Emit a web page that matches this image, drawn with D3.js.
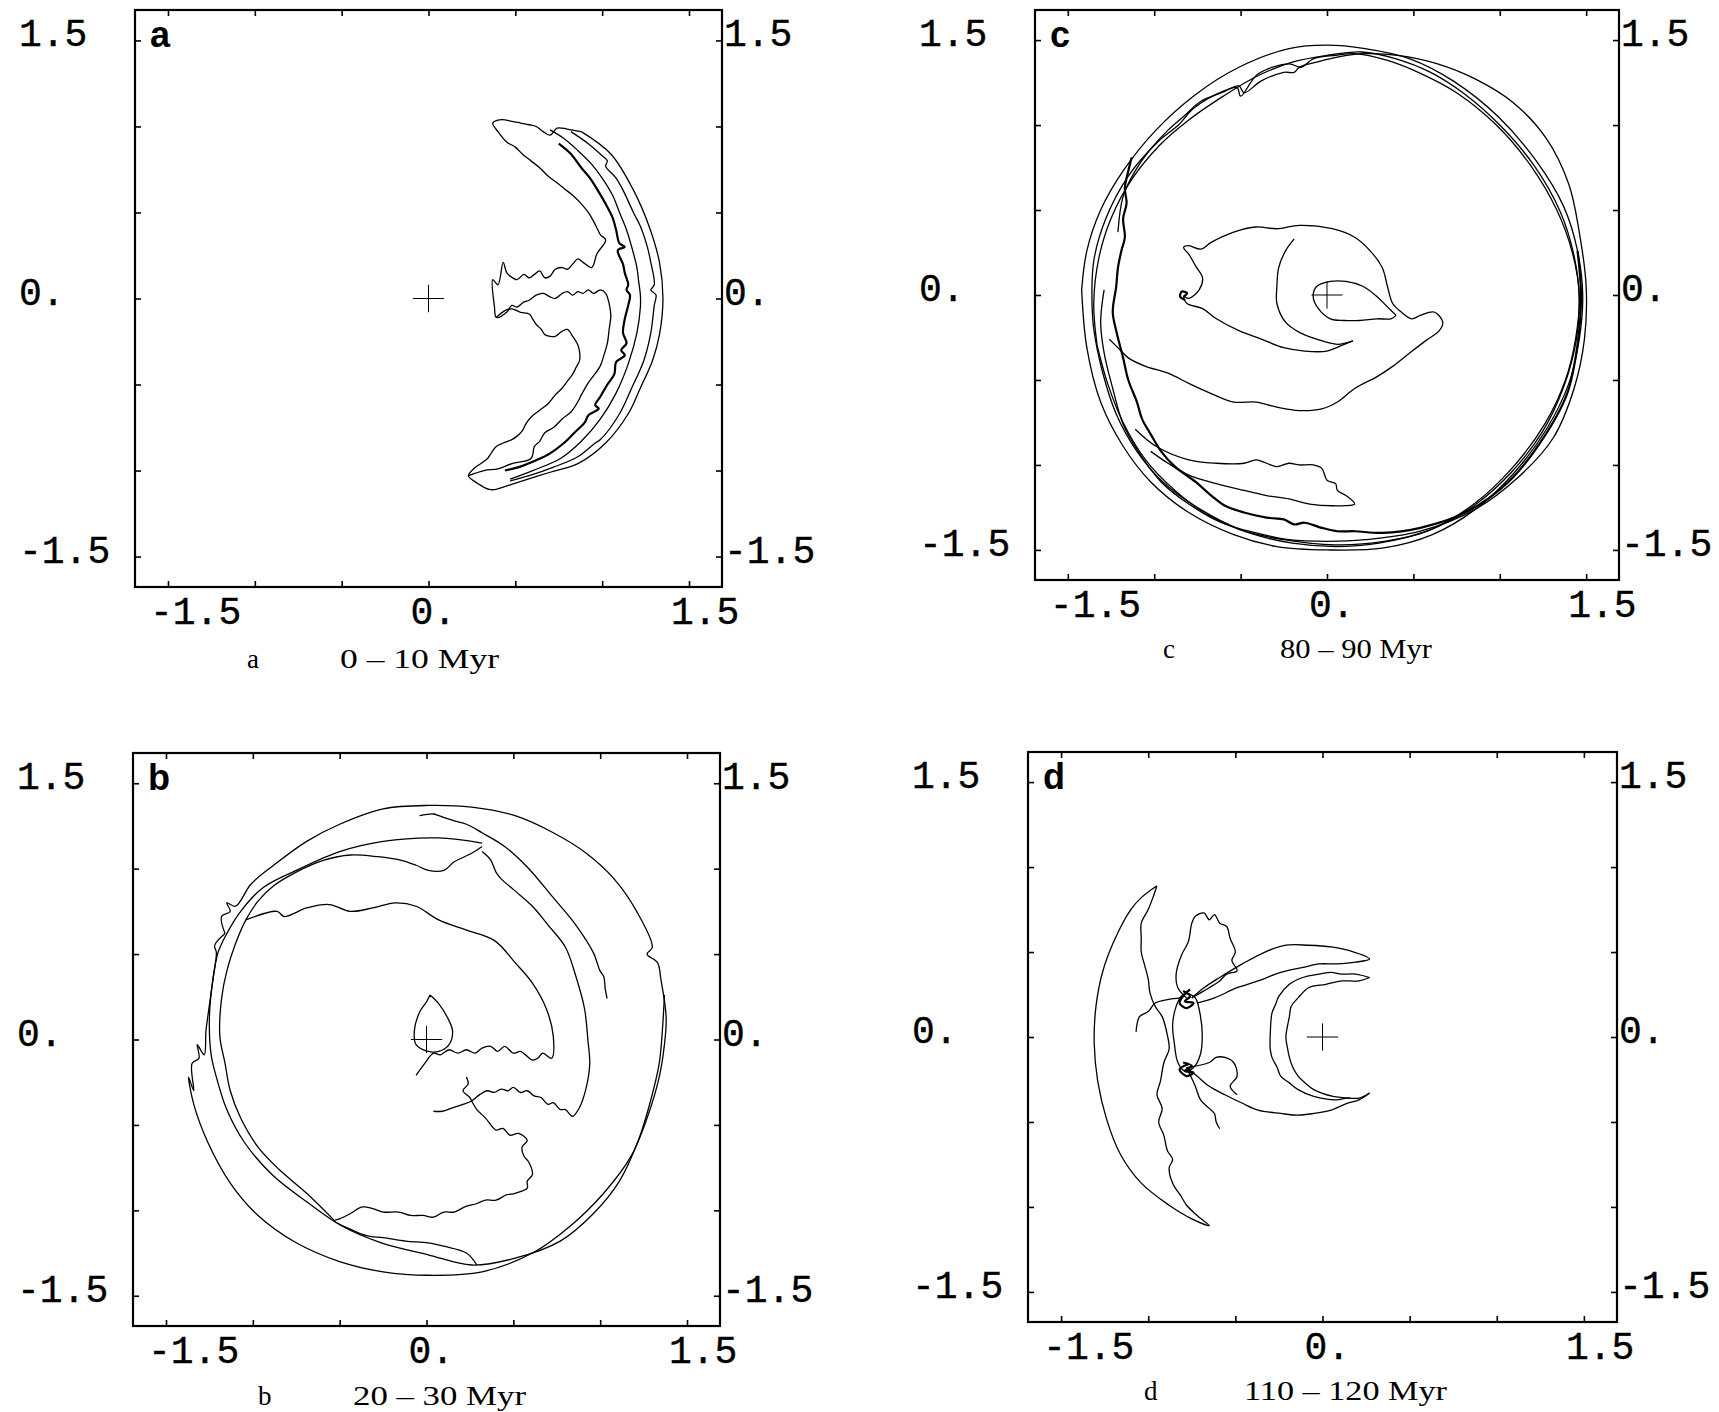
<!DOCTYPE html>
<html>
<head>
<meta charset="utf-8">
<script src="https://cdn.jsdelivr.net/npm/d3@7"></script>
<style>
  body { margin: 0; background: #fff; }
</style>
</head>
<body>
<svg id="fig" width="1719" height="1412"></svg>
<script>
// axis ticks and labels (same on every panel)
const tickValues = [-1.5, -1, -0.5, 0, 0.5, 1, 1.5];
const labelValues = [-1.5, 0, 1.5];
const labelText = ['-1.5', '0.', '1.5'];
const panelLetters = ['a', 'b', 'c', 'd'];
const periods = ['0 \u2013 10 Myr', '20 \u2013 30 Myr', '80 \u2013 90 Myr', '110 \u2013 120 Myr'];

// ---- panel a : 0 - 10 Myr ----
const aRing1 = [[0.88,0.97],[1.05,0.84],[1.18,0.63],[1.27,0.42],[1.33,0.21],[1.35,0.00],[1.33,-0.21],[1.29,-0.36],[1.22,-0.52],[1.15,-0.67],[1.02,-0.84],[0.86,-0.96],[0.70,-1.01],[0.51,-1.07],[0.39,-1.11]];
const aRing2 = [[0.82,0.97],[0.92,0.90],[1.00,0.83],[1.03,0.80],[1.02,0.77],[1.08,0.70],[1.12,0.63],[1.18,0.50],[1.22,0.42],[1.26,0.30],[1.28,0.21],[1.30,0.08],[1.28,0.05],[1.31,0.02],[1.30,-0.04],[1.28,-0.20],[1.24,-0.36],[1.17,-0.52],[1.10,-0.67],[0.99,-0.82],[0.96,-0.84],[0.86,-0.92],[0.72,-0.98],[0.58,-1.03],[0.47,-1.06]];
const aRing3 = [[0.70,0.98],[0.78,0.93],[0.86,0.86],[0.94,0.78],[1.00,0.70],[1.06,0.60],[1.10,0.50],[1.14,0.40],[1.17,0.30],[1.20,0.18],[1.21,0.10],[1.22,0.02],[1.22,-0.05],[1.20,-0.20],[1.15,-0.38],[1.08,-0.55],[0.99,-0.70],[0.88,-0.83],[0.76,-0.93],[0.60,-1.00],[0.47,-1.05]];
const aRing4 = [[0.75,0.90],[0.82,0.84],[0.88,0.76],[0.93,0.70],[0.98,0.62],[1.02,0.55],[1.06,0.47],[1.08,0.40],[1.10,0.32],[1.13,0.30],[1.09,0.28],[1.12,0.20],[1.13,0.15],[1.15,0.08],[1.14,0.05],[1.16,0.02],[1.15,-0.04],[1.13,-0.12],[1.12,-0.20],[1.14,-0.26],[1.11,-0.30],[1.13,-0.33],[1.08,-0.37],[1.07,-0.44],[1.03,-0.50],[0.99,-0.57],[0.96,-0.62],[0.98,-0.64],[0.92,-0.68],[0.90,-0.72],[0.84,-0.78],[0.78,-0.84],[0.70,-0.90],[0.62,-0.94],[0.52,-0.98],[0.44,-1.00]];
const aLoop = [[0.23,-1.03],[0.32,-1.00],[0.40,-0.99],[0.48,-0.96],[0.59,-0.93],[0.61,-0.86],[0.64,-0.83],[0.67,-0.78],[0.72,-0.75],[0.77,-0.70],[0.82,-0.66],[0.86,-0.60],[0.88,-0.56],[0.92,-0.49],[0.95,-0.45],[0.99,-0.39],[1.01,-0.33],[1.03,-0.26],[1.04,-0.18],[1.05,-0.10],[1.04,-0.03],[1.02,0.03],[0.99,0.05],[0.95,0.03],[0.92,0.05],[0.89,0.03],[0.86,0.04],[0.83,0.02],[0.80,0.04],[0.77,0.03],[0.73,0.00],[0.70,0.01],[0.66,0.03],[0.62,0.02],[0.58,-0.01],[0.55,-0.02],[0.51,-0.05],[0.48,-0.04],[0.45,-0.08],[0.39,-0.11],[0.38,-0.05],[0.37,0.11],[0.40,0.08],[0.43,0.21],[0.45,0.15],[0.47,0.13],[0.51,0.11],[0.55,0.14],[0.58,0.12],[0.61,0.14],[0.64,0.16],[0.67,0.12],[0.70,0.13],[0.73,0.17],[0.77,0.18],[0.80,0.17],[0.83,0.20],[0.86,0.23],[0.89,0.21],[0.94,0.18],[0.97,0.26],[1.02,0.34],[0.99,0.37],[0.97,0.41],[0.95,0.45],[0.92,0.50],[0.88,0.55],[0.83,0.60],[0.78,0.64],[0.73,0.68],[0.69,0.71],[0.64,0.76],[0.59,0.80],[0.54,0.84],[0.50,0.88],[0.45,0.91],[0.40,0.97],[0.37,1.02],[0.42,1.04],[0.48,1.03],[0.53,1.02],[0.58,1.01],[0.62,1.00],[0.66,0.97],[0.70,0.95],[0.74,0.99],[0.77,0.99],[0.82,0.98],[0.88,0.97]];
const aTongue = [[0.39,-0.11],[0.44,-0.07],[0.48,-0.06],[0.53,-0.08],[0.58,-0.09],[0.60,-0.12],[0.62,-0.15],[0.65,-0.18],[0.67,-0.21],[0.70,-0.22],[0.73,-0.22],[0.77,-0.19],[0.80,-0.18],[0.83,-0.22],[0.86,-0.27],[0.87,-0.31],[0.87,-0.36],[0.85,-0.40],[0.83,-0.44],[0.80,-0.48],[0.77,-0.52],[0.73,-0.56],[0.69,-0.61],[0.64,-0.65],[0.59,-0.69],[0.56,-0.73],[0.54,-0.77],[0.51,-0.80],[0.48,-0.82],[0.43,-0.84],[0.39,-0.86],[0.36,-0.90],[0.34,-0.93],[0.30,-0.96],[0.26,-0.99],[0.23,-1.03],[0.26,-1.06],[0.29,-1.08],[0.35,-1.11],[0.39,-1.11]];

// ---- panel b : 20 - 30 Myr ----
const bRing1 = [[-1.16,0.62],[-1.18,0.72],[-1.13,0.75],[-1.15,0.80],[-1.10,0.78],[-1.01,0.91],[-0.88,1.02],[-0.69,1.16],[-0.50,1.26],[-0.25,1.35],[0.01,1.37],[0.26,1.36],[0.51,1.31],[0.73,1.21],[0.92,1.09],[1.08,0.94],[1.21,0.75],[1.30,0.54],[1.27,0.50],[1.33,0.45],[1.35,0.35],[1.38,0.13],[1.37,-0.03],[1.34,-0.22],[1.27,-0.46],[1.18,-0.68],[1.02,-0.90],[0.83,-1.09],[0.61,-1.25],[0.32,-1.36],[0.01,-1.38],[-0.25,-1.36],[-0.50,-1.30],[-0.75,-1.19],[-0.97,-1.03],[-1.13,-0.84],[-1.26,-0.60],[-1.34,-0.38],[-1.37,-0.22],[-1.34,-0.30],[-1.35,-0.14],[-1.31,-0.11],[-1.32,-0.03],[-1.28,-0.09],[-1.27,0.05],[-1.26,0.13],[-1.23,0.35],[-1.21,0.51],[-1.22,0.55],[-1.16,0.62]];
const bRing2 = [[-0.04,1.31],[0.04,1.32],[0.07,1.31],[0.16,1.28],[0.23,1.26],[0.32,1.21],[0.45,1.13],[0.58,1.01],[0.73,0.83],[0.86,0.67],[0.96,0.51],[1.00,0.40],[1.02,0.37],[1.03,0.29],[1.04,0.24]];
const bRing3 = [[0.32,1.15],[0.07,1.18],[-0.25,1.16],[-0.50,1.10],[-0.75,0.99],[-0.94,0.89],[-1.07,0.75],[-1.15,0.62],[-1.20,0.51],[-1.23,0.35],[-1.25,0.13],[-1.24,-0.09],[-1.21,-0.22],[-1.15,-0.41],[-1.05,-0.60],[-0.89,-0.79],[-0.69,-0.95],[-0.49,-1.09],[-0.26,-1.19],[0.01,-1.26],[0.26,-1.32],[0.51,-1.28],[0.77,-1.18],[0.96,-1.02],[1.11,-0.83],[1.22,-0.59],[1.29,-0.36],[1.34,-0.14],[1.36,0.08],[1.37,0.26]];
const bRing4 = [[0.32,1.13],[0.26,1.09],[0.16,1.04],[0.10,0.99],[0.01,0.99],[-0.06,1.02],[-0.15,1.05],[-0.28,1.07],[-0.44,1.08],[-0.59,1.05],[-0.75,0.98],[-0.88,0.90],[-0.97,0.81],[-1.04,0.70],[-1.10,0.56],[-1.15,0.40],[-1.18,0.24],[-1.19,0.02],[-1.16,-0.14],[-1.13,-0.30],[-1.07,-0.46],[-0.97,-0.63],[-0.85,-0.76],[-0.69,-0.90],[-0.53,-1.06]];
const bArc1 = [[-1.04,0.70],[-0.86,0.75],[-0.82,0.72],[-0.69,0.77],[-0.56,0.79],[-0.44,0.75],[-0.31,0.77],[-0.18,0.80],[-0.06,0.78],[0.07,0.70],[0.23,0.64],[0.39,0.58],[0.51,0.45],[0.61,0.33],[0.69,0.18],[0.73,0.02],[0.72,-0.11],[0.67,-0.08],[0.64,-0.11],[0.61,-0.12],[0.57,-0.09],[0.54,-0.07],[0.50,-0.08],[0.45,-0.04],[0.41,-0.07],[0.37,-0.04],[0.32,-0.05],[0.28,-0.08],[0.23,-0.06],[0.18,-0.08],[0.13,-0.06],[0.08,-0.09],[0.04,-0.08],[-0.01,-0.14],[-0.06,-0.21]];
const bArc2 = [[0.32,1.10],[0.37,1.05],[0.40,0.98],[0.43,0.94],[0.51,0.87],[0.61,0.78],[0.70,0.67],[0.80,0.54],[0.86,0.37],[0.91,0.18],[0.93,-0.01],[0.94,-0.14],[0.92,-0.28],[0.88,-0.40],[0.84,-0.45],[0.80,-0.41],[0.77,-0.41],[0.73,-0.37],[0.70,-0.38],[0.66,-0.34],[0.62,-0.33],[0.58,-0.30],[0.54,-0.31],[0.50,-0.28],[0.47,-0.30],[0.43,-0.29],[0.39,-0.31],[0.35,-0.30],[0.31,-0.32],[0.26,-0.36],[0.21,-0.38],[0.15,-0.40],[0.09,-0.42],[0.04,-0.42]];
const bArc3 = [[0.26,-0.36],[0.29,-0.41],[0.34,-0.46],[0.40,-0.53],[0.44,-0.52],[0.48,-0.56],[0.53,-0.55],[0.58,-0.59],[0.55,-0.63],[0.56,-0.68],[0.59,-0.72],[0.61,-0.79],[0.58,-0.83],[0.58,-0.87],[0.51,-0.90],[0.46,-0.91],[0.40,-0.94],[0.34,-0.94],[0.29,-0.96],[0.22,-0.98],[0.16,-1.01],[0.10,-1.01],[0.04,-1.04],[-0.02,-1.03],[-0.09,-1.03],[-0.16,-1.01],[-0.25,-1.01],[-0.31,-0.99],[-0.37,-0.98],[-0.44,-1.02],[-0.50,-1.05],[-0.53,-1.06],[-0.44,-1.11],[-0.34,-1.15],[-0.25,-1.16],[-0.12,-1.18],[0.01,-1.19],[0.10,-1.21],[0.23,-1.25],[0.29,-1.32]];
const bKink = [[0.23,-0.22],[0.24,-0.26],[0.21,-0.30],[0.25,-0.34],[0.26,-0.36]];
const bDrop = [[0.02,0.26],[0.07,0.21],[0.12,0.13],[0.15,0.05],[0.13,-0.03],[0.07,-0.07],[0.01,-0.07],[-0.06,-0.03],[-0.07,0.05],[-0.04,0.16],[0.00,0.22],[0.02,0.26]];

// ---- panel c : 80 - 90 Myr ----
const cRing1 = [[-1.42,0.03],[-1.39,0.26],[-1.31,0.50],[-1.18,0.73],[-0.99,0.97],[-0.76,1.18],[-0.51,1.34],[-0.22,1.45],[0.00,1.47],[0.22,1.45],[0.48,1.39],[0.73,1.26],[0.99,1.05],[1.21,0.79],[1.37,0.52],[1.45,0.26],[1.48,0.00],[1.46,-0.26],[1.40,-0.52],[1.27,-0.79],[1.08,-1.05],[0.86,-1.26],[0.61,-1.41],[0.32,-1.49],[0.00,-1.50],[-0.29,-1.48],[-0.54,-1.41],[-0.80,-1.28],[-1.02,-1.10],[-1.18,-0.89],[-1.31,-0.63],[-1.39,-0.31],[-1.42,0.03]];
const cRing2 = [[-1.36,-0.05],[-1.35,0.20],[-1.28,0.45],[-1.15,0.70],[-0.98,0.90],[-0.86,1.00],[-0.77,1.10],[-0.60,1.20],[-0.52,1.22],[-0.50,1.17],[-0.40,1.30],[-0.22,1.36],[-0.15,1.34],[-0.08,1.39],[0.05,1.41],[0.16,1.42],[0.35,1.38],[0.55,1.30],[0.75,1.19],[0.98,1.00],[1.18,0.76],[1.33,0.50],[1.42,0.25],[1.46,0.00],[1.44,-0.25],[1.38,-0.50],[1.26,-0.76],[1.07,-1.02],[0.85,-1.23],[0.60,-1.38],[0.33,-1.45],[0.05,-1.47],[-0.25,-1.44],[-0.50,-1.38],[-0.75,-1.25],[-0.95,-1.10],[-1.10,-0.92],[-1.22,-0.70],[-1.30,-0.45],[-1.35,-0.20],[-1.36,-0.05]];
const cRing3 = [[-1.33,-0.30],[-1.35,-0.05],[-1.32,0.22],[-1.25,0.45],[-1.13,0.68],[-0.97,0.88],[-0.80,1.03],[-0.60,1.17],[-0.40,1.29],[-0.20,1.37],[0.00,1.41],[0.20,1.43],[0.40,1.39],[0.60,1.31],[0.80,1.18],[1.00,1.00],[1.20,0.76],[1.35,0.49],[1.43,0.23],[1.46,-0.02],[1.44,-0.28],[1.37,-0.54],[1.25,-0.80],[1.07,-1.04],[0.85,-1.24],[0.58,-1.39],[0.30,-1.46],[0.05,-1.48],[-0.20,-1.46],[-0.45,-1.40],[-0.68,-1.30],[-0.88,-1.15],[-1.05,-0.97],[-1.18,-0.75],[-1.27,-0.52],[-1.33,-0.30]];
const cRing4 = [[-1.13,0.81],[-1.15,0.73],[-1.17,0.63],[-1.16,0.54],[-1.18,0.45],[-1.17,0.34],[-1.19,0.26],[-1.21,0.16],[-1.22,0.05],[-1.24,-0.10],[-1.22,-0.21],[-1.18,-0.37],[-1.15,-0.50],[-1.10,-0.63],[-1.07,-0.73],[-1.02,-0.82],[-0.96,-0.92],[-0.88,-1.01],[-0.76,-1.10],[-0.67,-1.18],[-0.59,-1.24],[-0.48,-1.28],[-0.35,-1.31],[-0.25,-1.32],[-0.19,-1.35],[-0.13,-1.34],[-0.03,-1.37],[0.06,-1.39],[0.16,-1.39],[0.32,-1.40],[0.54,-1.37],[0.80,-1.28],[1.05,-1.10],[1.24,-0.86],[1.39,-0.58],[1.45,-0.29],[1.47,0.00],[1.45,0.26]];
const cRing5 = [[-1.21,0.37],[-1.18,0.58],[-1.11,0.73],[-1.02,0.86],[-0.92,0.97],[-0.83,1.05],[-0.73,1.14],[-0.61,1.19],[-0.51,1.23],[-0.48,1.19],[-0.38,1.26],[-0.25,1.31],[-0.19,1.31],[-0.16,1.34],[-0.06,1.37],[0.06,1.40],[0.22,1.42],[0.41,1.41],[0.64,1.36],[0.86,1.27],[1.08,1.13],[1.27,0.92],[1.40,0.65],[1.46,0.37],[1.50,0.05],[1.49,-0.26],[1.43,-0.55],[1.31,-0.84],[1.11,-1.07],[0.86,-1.26],[0.54,-1.39],[0.22,-1.44],[0.00,-1.45],[-0.22,-1.44],[-0.41,-1.40],[-0.61,-1.34],[-0.80,-1.23],[-0.96,-1.10],[-1.08,-0.94],[-1.18,-0.76],[-1.24,-0.55],[-1.29,-0.34],[-1.31,-0.16],[-1.29,0.03]];
const cTongue = [[-1.11,-0.79],[-0.99,-0.89],[-0.80,-0.97],[-0.64,-0.99],[-0.48,-0.99],[-0.41,-0.97],[-0.35,-0.99],[-0.29,-1.01],[-0.22,-0.99],[-0.16,-1.00],[-0.08,-1.00],[-0.03,-1.02],[0.00,-1.09],[0.05,-1.11],[0.06,-1.15],[0.11,-1.18],[0.16,-1.23],[0.03,-1.24],[-0.10,-1.23],[-0.22,-1.20],[-0.35,-1.18],[-0.48,-1.15],[-0.64,-1.11],[-0.80,-1.06],[-0.92,-0.99],[-1.02,-0.92]];
const cLoop = [[-1.26,-0.26],[-1.21,-0.31],[-1.15,-0.37],[-1.05,-0.42],[-0.92,-0.46],[-0.80,-0.52],[-0.67,-0.58],[-0.54,-0.63],[-0.41,-0.63],[-0.29,-0.66],[-0.16,-0.68],[-0.03,-0.67],[0.06,-0.63],[0.16,-0.55],[0.29,-0.48],[0.38,-0.42],[0.48,-0.34],[0.57,-0.27],[0.65,-0.21],[0.67,-0.16],[0.62,-0.10],[0.54,-0.12],[0.49,-0.14],[0.43,-0.10],[0.38,-0.05],[0.35,0.05],[0.32,0.16],[0.25,0.26],[0.16,0.34],[0.03,0.39],[-0.16,0.41],[-0.29,0.39],[-0.41,0.40],[-0.54,0.37],[-0.67,0.31],[-0.73,0.27],[-0.80,0.29],[-0.83,0.28],[-0.80,0.24],[-0.76,0.17],[-0.72,0.10],[-0.74,0.03],[-0.80,-0.02],[-0.83,-0.01],[-0.81,-0.05],[-0.72,-0.08],[-0.64,-0.14],[-0.51,-0.21],[-0.38,-0.26],[-0.25,-0.31],[-0.13,-0.33],[0.00,-0.33],[0.10,-0.29],[0.15,-0.27]];
const cSpiral = [[0.15,-0.27],[0.06,-0.29],[-0.06,-0.26],[-0.16,-0.22],[-0.24,-0.16],[-0.29,-0.05],[-0.29,0.05],[-0.28,0.16],[-0.24,0.26],[-0.19,0.33]];
const cDrop = [[0.40,-0.12],[0.35,-0.07],[0.29,-0.01],[0.21,0.05],[0.11,0.08],[0.02,0.08],[-0.06,0.05],[-0.08,-0.01],[-0.05,-0.08],[0.02,-0.14],[0.10,-0.15],[0.19,-0.15],[0.29,-0.14],[0.37,-0.14],[0.40,-0.12]];
const cDot = [[-0.83,-0.01],[-0.81,0.01],[-0.84,0.02],[-0.85,-0.01],[-0.82,-0.03]];

// ---- panel d : 110 - 120 Myr ----
const dArc = [[-0.95,0.89],[-1.04,0.82],[-1.10,0.75],[-1.19,0.58],[-1.26,0.39],[-1.30,0.18],[-1.31,-0.04],[-1.29,-0.26],[-1.24,-0.48],[-1.16,-0.69],[-1.04,-0.86],[-0.88,-0.99],[-0.75,-1.07],[-0.65,-1.11],[-0.72,-1.05],[-0.78,-0.99],[-0.81,-0.94],[-0.86,-0.86],[-0.88,-0.77],[-0.86,-0.72],[-0.89,-0.67],[-0.91,-0.58],[-0.94,-0.50],[-0.92,-0.42],[-0.95,-0.34],[-0.93,-0.26],[-0.91,-0.15],[-0.88,-0.07],[-0.89,0.01],[-0.92,0.12],[-0.96,0.18],[-0.99,0.26],[-1.00,0.34],[-1.02,0.42],[-1.04,0.50],[-1.04,0.58],[-1.04,0.67],[-1.00,0.75],[-0.97,0.83],[-0.95,0.89]];
const dOval = [[-0.78,0.26],[-0.73,0.23],[-0.70,0.12],[-0.69,0.01],[-0.70,-0.10],[-0.74,-0.18],[-0.79,-0.20],[-0.83,-0.15],[-0.85,-0.04],[-0.86,0.07],[-0.84,0.18],[-0.81,0.24],[-0.78,0.26]];
const dKnotTop = [[-0.80,0.27],[-0.76,0.24],[-0.79,0.21],[-0.74,0.20],[-0.78,0.17],[-0.82,0.20],[-0.80,0.24],[-0.76,0.28]];
const dKnotLow = [[-0.80,-0.15],[-0.75,-0.17],[-0.79,-0.20],[-0.74,-0.21],[-0.78,-0.23],[-0.82,-0.19],[-0.77,-0.16]];
const dFlame = [[-0.78,0.23],[-0.83,0.29],[-0.84,0.37],[-0.81,0.48],[-0.77,0.56],[-0.75,0.67],[-0.73,0.71],[-0.68,0.73],[-0.65,0.69],[-0.62,0.72],[-0.59,0.67],[-0.55,0.65],[-0.53,0.58],[-0.50,0.50],[-0.52,0.45],[-0.49,0.39],[-0.55,0.37],[-0.59,0.33],[-0.65,0.29],[-0.70,0.26],[-0.75,0.23]];
const dHorn = [[-0.75,0.23],[-0.68,0.29],[-0.59,0.35],[-0.46,0.43],[-0.33,0.50],[-0.21,0.54],[-0.08,0.54],[0.05,0.53],[0.18,0.50],[0.27,0.46],[0.19,0.44],[0.08,0.43],[-0.02,0.43],[-0.11,0.41],[-0.24,0.38],[-0.37,0.33],[-0.49,0.29],[-0.62,0.23],[-0.72,0.20]];
const dMoon1 = [[0.27,0.35],[0.19,0.37],[0.11,0.37],[0.05,0.38],[-0.02,0.37],[-0.08,0.36],[-0.14,0.34],[-0.19,0.31],[-0.25,0.24],[-0.27,0.19],[-0.29,0.14],[-0.30,0.01],[-0.30,-0.07],[-0.29,-0.12],[-0.26,-0.18],[-0.24,-0.23],[-0.19,-0.27],[-0.14,-0.31],[-0.05,-0.35],[0.08,-0.37],[0.14,-0.36],[0.21,-0.36],[0.27,-0.33]];
const dMoon2 = [[0.27,0.35],[0.21,0.33],[0.11,0.33],[0.02,0.31],[-0.08,0.29],[-0.14,0.23],[-0.18,0.18],[-0.19,0.12],[-0.21,0.00],[-0.20,-0.07],[-0.19,-0.12],[-0.17,-0.18],[-0.14,-0.23],[-0.10,-0.27],[-0.05,-0.31],[0.06,-0.35],[0.16,-0.36]];
const dLower = [[-0.78,-0.18],[-0.72,-0.23],[-0.65,-0.29],[-0.56,-0.34],[-0.46,-0.39],[-0.37,-0.43],[-0.24,-0.45],[-0.14,-0.46],[-0.05,-0.45],[0.05,-0.43],[0.14,-0.39],[0.21,-0.37],[0.27,-0.33]];
const dTuft = [[-0.78,-0.18],[-0.65,-0.15],[-0.61,-0.12],[-0.56,-0.12],[-0.51,-0.15],[-0.49,-0.23],[-0.53,-0.29],[-0.49,-0.34]];
const dTail = [[-0.78,-0.18],[-0.73,-0.29],[-0.70,-0.37],[-0.65,-0.42],[-0.62,-0.45],[-0.61,-0.50],[-0.59,-0.54]];
const dSpur = [[-1.07,0.03],[-1.05,0.12],[-1.00,0.15],[-0.96,0.20],[-0.89,0.22],[-0.81,0.23]];

const svg = d3.select('#fig');

const panels = [
  { left: 135, right: 722, top: 10, bottom: 587, letterX: 247, periodX: 340, periodW: 159, capDy: 81,
    tracks: [aRing1, aRing2, aRing3, aRing4, aLoop, aTongue], thick: [aRing4] },
  { left: 133, right: 720, top: 753, bottom: 1326, letterX: 258, periodX: 353, periodW: 173, capDy: 79,
    tracks: [bRing1, bRing2, bRing3, bRing4, bArc1, bArc2, bArc3, bKink, bDrop], thick: [] },
  { left: 1035, right: 1619, top: 10, bottom: 580, letterX: 1163, periodX: 1280, periodW: 152, capDy: 78,
    tracks: [cRing1, cRing2, cRing3, cRing4, cRing5, cTongue, cLoop, cSpiral, cDrop, cDot], thick: [cRing4, cDot] },
  { left: 1028, right: 1617, top: 752, bottom: 1322, letterX: 1144, periodX: 1244, periodW: 203, capDy: 78,
    tracks: [dArc, dOval, dKnotTop, dKnotLow, dFlame, dHorn, dMoon1, dMoon2, dLower, dTuft, dTail, dSpur], thick: [dKnotTop, dKnotLow] }
];

panels.forEach((p, i) => {
  const x = d3.scaleLinear().domain([-1.69, 1.69]).range([p.left, p.right]);
  const y = d3.scaleLinear().domain([-1.677, 1.677]).range([p.bottom, p.top]);
  const g = svg.append('g');

  // frame
  g.append('rect')
    .attr('x', p.left).attr('y', p.top)
    .attr('width', p.right - p.left).attr('height', p.bottom - p.top)
    .attr('fill', 'none').attr('stroke', '#000').attr('stroke-width', 2.2);

  // inward ticks on all four sides
  const tickAxes = [
    [d3.axisBottom(x), `translate(0,${p.bottom})`],
    [d3.axisTop(x), `translate(0,${p.top})`],
    [d3.axisLeft(y), `translate(${p.left},0)`],
    [d3.axisRight(y), `translate(${p.right},0)`]
  ];
  tickAxes.forEach(([ax, tr]) => {
    const a = g.append('g').attr('transform', tr)
      .call(ax.tickValues(tickValues).tickSize(-6).tickFormat(''));
    a.select('.domain').remove();
    a.selectAll('line').attr('stroke', '#000').attr('stroke-width', 1.6);
  });

  const numFont = s => s.attr('font-family', '"Liberation Mono", "DejaVu Sans Mono", monospace')
    .attr('font-size', 38).attr('fill', '#000').attr('stroke', '#000').attr('stroke-width', 0.4);

  // x labels
  g.selectAll('.xl').data(labelValues).enter().append('text')
    .attr('x', d => x(d) - 18).attr('y', p.bottom + 37)
    .text((d, k) => labelText[k]).call(numFont);
  // y labels, left and right
  g.selectAll('.yl').data(labelValues).enter().append('text')
    .attr('x', p.left - 116).attr('y', d => y(d) + 6)
    .text((d, k) => labelText[k]).call(numFont);
  g.selectAll('.yr').data(labelValues).enter().append('text')
    .attr('x', p.right + 2).attr('y', d => y(d) + 6)
    .text((d, k) => labelText[k]).call(numFont);

  // panel letter
  g.append('text').attr('x', p.left + 15).attr('y', p.top + 37)
    .attr('font-family', '"Liberation Sans", Arial, sans-serif').attr('font-weight', 'bold')
    .attr('font-size', 36).text(panelLetters[i]);

  // caption
  const cap = g.append('g').attr('font-family', '"Liberation Serif", "DejaVu Serif", serif')
    .attr('font-size', 27).attr('fill', '#000');
  cap.append('text').attr('x', p.letterX).attr('y', p.bottom + p.capDy).text(panelLetters[i]);
  cap.append('text').attr('x', p.periodX).attr('y', p.bottom + p.capDy)
    .attr('textLength', p.periodW).attr('lengthAdjust', 'spacingAndGlyphs').text(periods[i]);

  // centre cross
  g.append('line').attr('x1', x(-0.09)).attr('x2', x(0.09)).attr('y1', y(0)).attr('y2', y(0))
    .attr('stroke', '#000').attr('stroke-width', 1);
  g.append('line').attr('x1', x(0)).attr('x2', x(0)).attr('y1', y(0.08)).attr('y2', y(-0.08))
    .attr('stroke', '#000').attr('stroke-width', 1);

  // trajectories
  const line = d3.line().x(d => x(d[0])).y(d => y(d[1])).curve(d3.curveCatmullRom.alpha(0.5));
  g.selectAll('.trk').data(p.tracks).enter().append('path')
    .attr('d', line)
    .attr('fill', 'none').attr('stroke', '#000')
    .attr('stroke-width', d => p.thick.includes(d) ? 2.2 : 1.3)
    .attr('stroke-linejoin', 'round');
});
</script>
</body>
</html>
